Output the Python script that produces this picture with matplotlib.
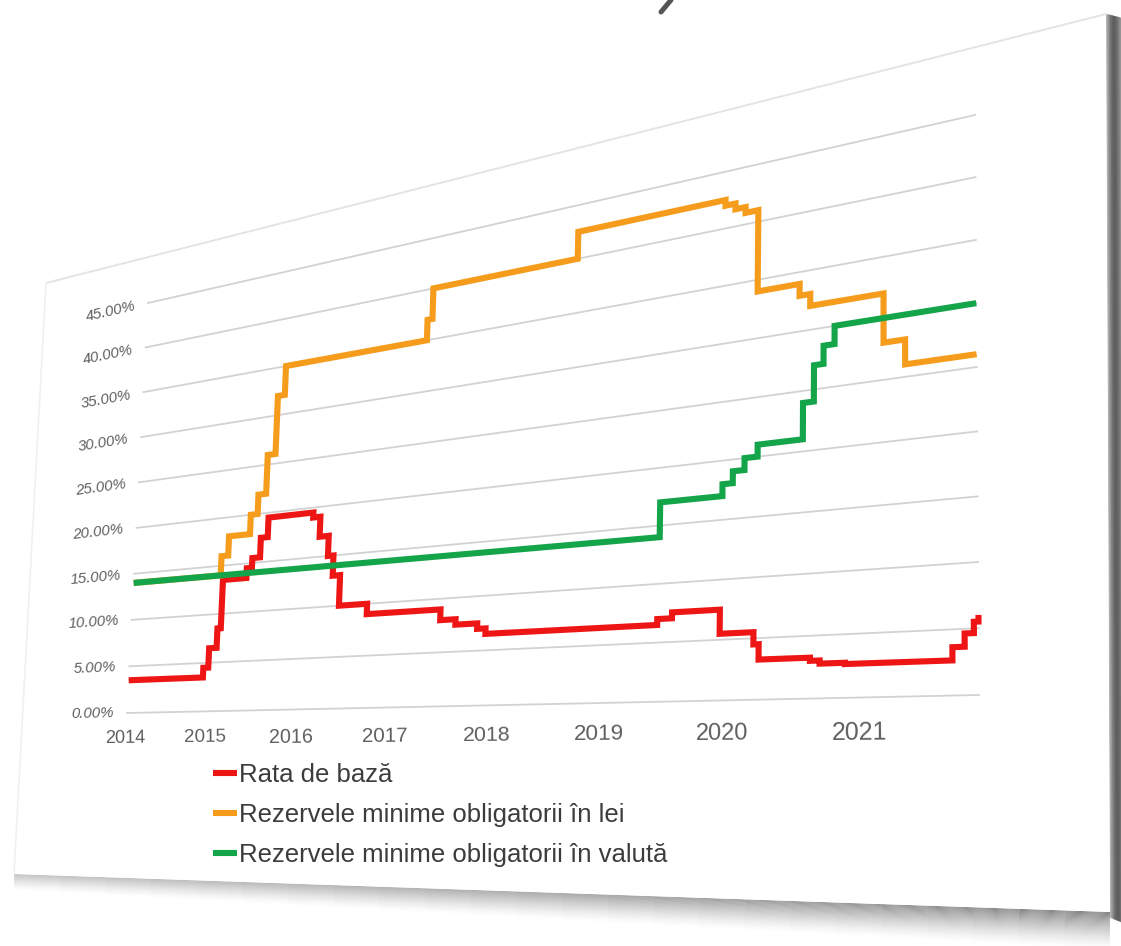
"""Base rate and required reserves of banks, 2014-2021, drawn on a tilted card."""

import numpy as np
import matplotlib

matplotlib.use("Agg")
import matplotlib.pyplot as plt
from matplotlib import transforms as mtransforms
from matplotlib.patches import Polygon

# --- data (decimal year, percent) -------------------------------------------
X_START, X_END = 2014.0, 2021.8
Y_TOP = 45.0

base_rate_dates = [2014.0, 2014.94, 2015.0, 2015.09, 2015.13, 2015.41, 2015.47,
                   2015.56, 2015.64, 2016.15, 2016.23, 2016.33, 2016.39, 2016.47,
                   2016.77, 2017.52, 2017.67, 2017.88, 2017.96, 2019.47, 2019.59,
                   2019.97, 2020.23, 2020.27, 2020.65, 2020.72, 2020.90, 2021.63,
                   2021.71, 2021.77, 2021.8]
base_rate = [3.5, 4.5, 6.5, 8.5, 13.5, 14.5, 15.5, 17.5, 19.5, 19.0, 17.0, 15.0,
             13.0, 10.0, 9.0, 8.0, 7.5, 7.0, 6.5, 7.0, 7.5, 5.5, 4.5, 3.25, 3.0,
             2.75, 2.65, 3.65, 4.65, 5.5, 6.0]

lei_dates = [2014.0, 2015.10, 2015.18, 2015.43, 2015.51, 2015.60, 2015.69, 2015.77,
             2017.30, 2017.35, 2018.73, 2019.98, 2020.06, 2020.14, 2020.24, 2020.56,
             2020.64, 2021.17, 2021.32, 2021.8]
lei_reserves = [14.0, 16.0, 18.0, 20.0, 22.0, 26.0, 32.0, 35.0, 37.0, 40.0, 42.5,
                42.0, 41.5, 41.0, 34.0, 33.0, 32.0, 28.0, 26.0, 26.0]

fx_dates = [2014.0, 2019.48, 2019.98, 2020.06, 2020.15, 2020.25, 2020.59, 2020.67,
            2020.74, 2020.82, 2021.8]
fx_reserves = [14.0, 17.0, 18.0, 19.0, 20.0, 21.0, 24.0, 27.0, 28.5, 30.0, 30.0]

year_ticks = list(range(2014, 2022))
pct_ticks = list(range(0, 50, 5))

series_labels = [
    "Rata de bază",
    "Rezervele minime obligatorii în lei",
    "Rezervele minime obligatorii în valută",
]
series_colors = ["#ee1515", "#f59c1c", "#14a44a"]

# where the plot area corners land on the card (pixels, y down):
# (start, 0%), (end, 0%), (end, 45%), (start, 45%)
PLOT_CORNERS = np.array([(127, 713), (979, 695), (975, 115), (148, 303)], float)


def square_to_quad(quad):
    """Projective map taking the unit square onto a quadrilateral."""
    src = np.array([(0, 0), (1, 0), (1, 1), (0, 1)], float)
    rows, rhs = [], []
    for (u, v), (x, y) in zip(src, quad):
        rows.append([u, v, 1, 0, 0, 0, -x * u, -x * v])
        rows.append([0, 0, 0, u, v, 1, -y * u, -y * v])
        rhs += [x, y]
    h = np.linalg.solve(np.array(rows), np.array(rhs))
    return np.append(h, 1.0).reshape(3, 3)


class Perspective(mtransforms.Transform):
    """Maps (year, percent) onto the tilted card, in pixel coordinates."""

    input_dims = 2
    output_dims = 2
    is_separable = False

    def __init__(self, matrix):
        super().__init__()
        self.matrix = matrix

    def transform_non_affine(self, values):
        pts = np.asarray(values, float).reshape(-1, 2)
        hom = np.column_stack([pts, np.ones(len(pts))]) @ self.matrix.T
        return hom[:, :2] / hom[:, 2:3]

    def depth(self, x, y):
        return (self.matrix[2] @ np.array([x, y, 1.0]))


to_unit = np.array([
    [1.0 / (X_END - X_START), 0.0, -X_START / (X_END - X_START)],
    [0.0, 1.0 / Y_TOP, 0.0],
    [0.0, 0.0, 1.0],
])
tilt = Perspective(square_to_quad(PLOT_CORNERS) @ to_unit)

fig = plt.figure(figsize=(11.21, 9.46), dpi=100)
ax = fig.add_axes([0, 0, 1, 1])
ax.set_xlim(0, 1121)
ax.set_ylim(946, 0)
ax.set_autoscale_on(False)
ax.axis("off")
tr = tilt + ax.transData

# --- the card and its shadow -------------------------------------------------
card = [(46, 283), (1106, 14), (1110, 912), (14, 874)]
(bx0, by0), (bx1, by1) = card[3], card[2]

# soft shadow under the bottom edge: deeper and darker towards the right
n_seg, n_band = 24, 36
for i in range(n_seg):
    f0, f1 = i / n_seg, (i + 1) / n_seg
    xa, xb = bx0 + (bx1 - bx0) * f0, bx0 + (bx1 - bx0) * f1
    ya, yb = by0 + (by1 - by0) * f0, by0 + (by1 - by0) * f1
    fm = (f0 + f1) / 2
    depth = 16 + 22 * fm
    strength = 0.38 + 0.37 * fm
    for k in range(n_band):
        d0, d1 = depth * k / n_band, depth * (k + 1) / n_band
        a = strength * (1 - k / n_band) ** 1.5
        ax.add_patch(Polygon([(xa, ya + d0), (xb, yb + d0), (xb, yb + d1),
                              (xa, ya + d1)], closed=True, facecolor="#5a5a5a",
                             edgecolor="none", alpha=a, zorder=0))

# thick shaded right edge
for k, col in enumerate(["#b4b4b4", "#9a9a9a", "#828282", "#6e6e6e", "#626262",
                         "#5e5e5e", "#646464", "#707070", "#808080", "#939393"]):
    off = 1 + k * 1.5
    ax.plot([1106 + off, 1110 + off], [14 + k * 0.4, 918 + k * 0.6], color=col,
            lw=1.7, solid_capstyle="butt", zorder=0.5)
ax.add_patch(Polygon(card, closed=True, facecolor="white", edgecolor="none",
                     zorder=0.8))
ax.plot([card[0][0], card[1][0]], [card[0][1], card[1][1]], color="#e4e4e4",
        lw=1.4, zorder=0.9)
ax.plot([card[0][0], card[3][0]], [card[0][1], card[3][1]], color="#f0f0f0",
        lw=1.2, zorder=0.9)
# tail of a cut-off heading above the card
ax.plot([671, 661], [0, 12], color="#555555", lw=3.6, solid_capstyle="round")

# --- gridlines ---------------------------------------------------------------
for p in pct_ticks:
    ax.plot([X_START, X_END], [p, p], color="#d2d2d2", lw=1.3, transform=tr,
            zorder=1)

# --- series ------------------------------------------------------------------
handles = []
for (dates, vals), label, color, z in zip(
        [(base_rate_dates, base_rate), (lei_dates, lei_reserves),
         (fx_dates, fx_reserves)],
        series_labels, series_colors, [3, 4, 5]):
    (line,) = ax.plot(dates, vals, drawstyle="steps-post", color=color, lw=4.4,
                      solid_joinstyle="miter", solid_capstyle="butt",
                      transform=tr, label=label, zorder=z)
    handles.append(line)


def local_angle(x, y, dx=0.4):
    (x0, y0), (x1, y1) = tr.transform([(x, y), (x + dx, y)])
    return np.degrees(np.arctan2(y1 - y0, x1 - x0))


w0 = tilt.depth(X_START, 0.0)

# y tick labels
for p in pct_ticks:
    xl = X_START - 0.17
    ax.text(xl, p, f"{p:.2f}%", transform=tr, ha="right", va="center",
            rotation=local_angle(xl, p), rotation_mode="anchor",
            fontsize=10.8, style="italic", color="#5f5f5f",
            family="Liberation Sans")

# x tick labels
for yr in year_ticks:
    s = w0 / tilt.depth(yr, -2.7)
    ax.text(yr, -2.7, str(yr), transform=tr, ha="center", va="center",
            rotation=local_angle(yr, -2.7), rotation_mode="anchor",
            fontsize=13.0 * s, color="#5f5f5f", family="Liberation Sans")

ax.legend(handles=handles, loc="upper left", bbox_to_anchor=(213, 763),
          bbox_transform=ax.transData, frameon=False,
          handlelength=0.95, handletextpad=0.06, labelspacing=0.62,
          borderpad=0, borderaxespad=0, labelcolor="#3c3c3c",
          prop={"family": "Liberation Sans", "size": 18.5})

fig.savefig("out.png", dpi=100, facecolor="white")
